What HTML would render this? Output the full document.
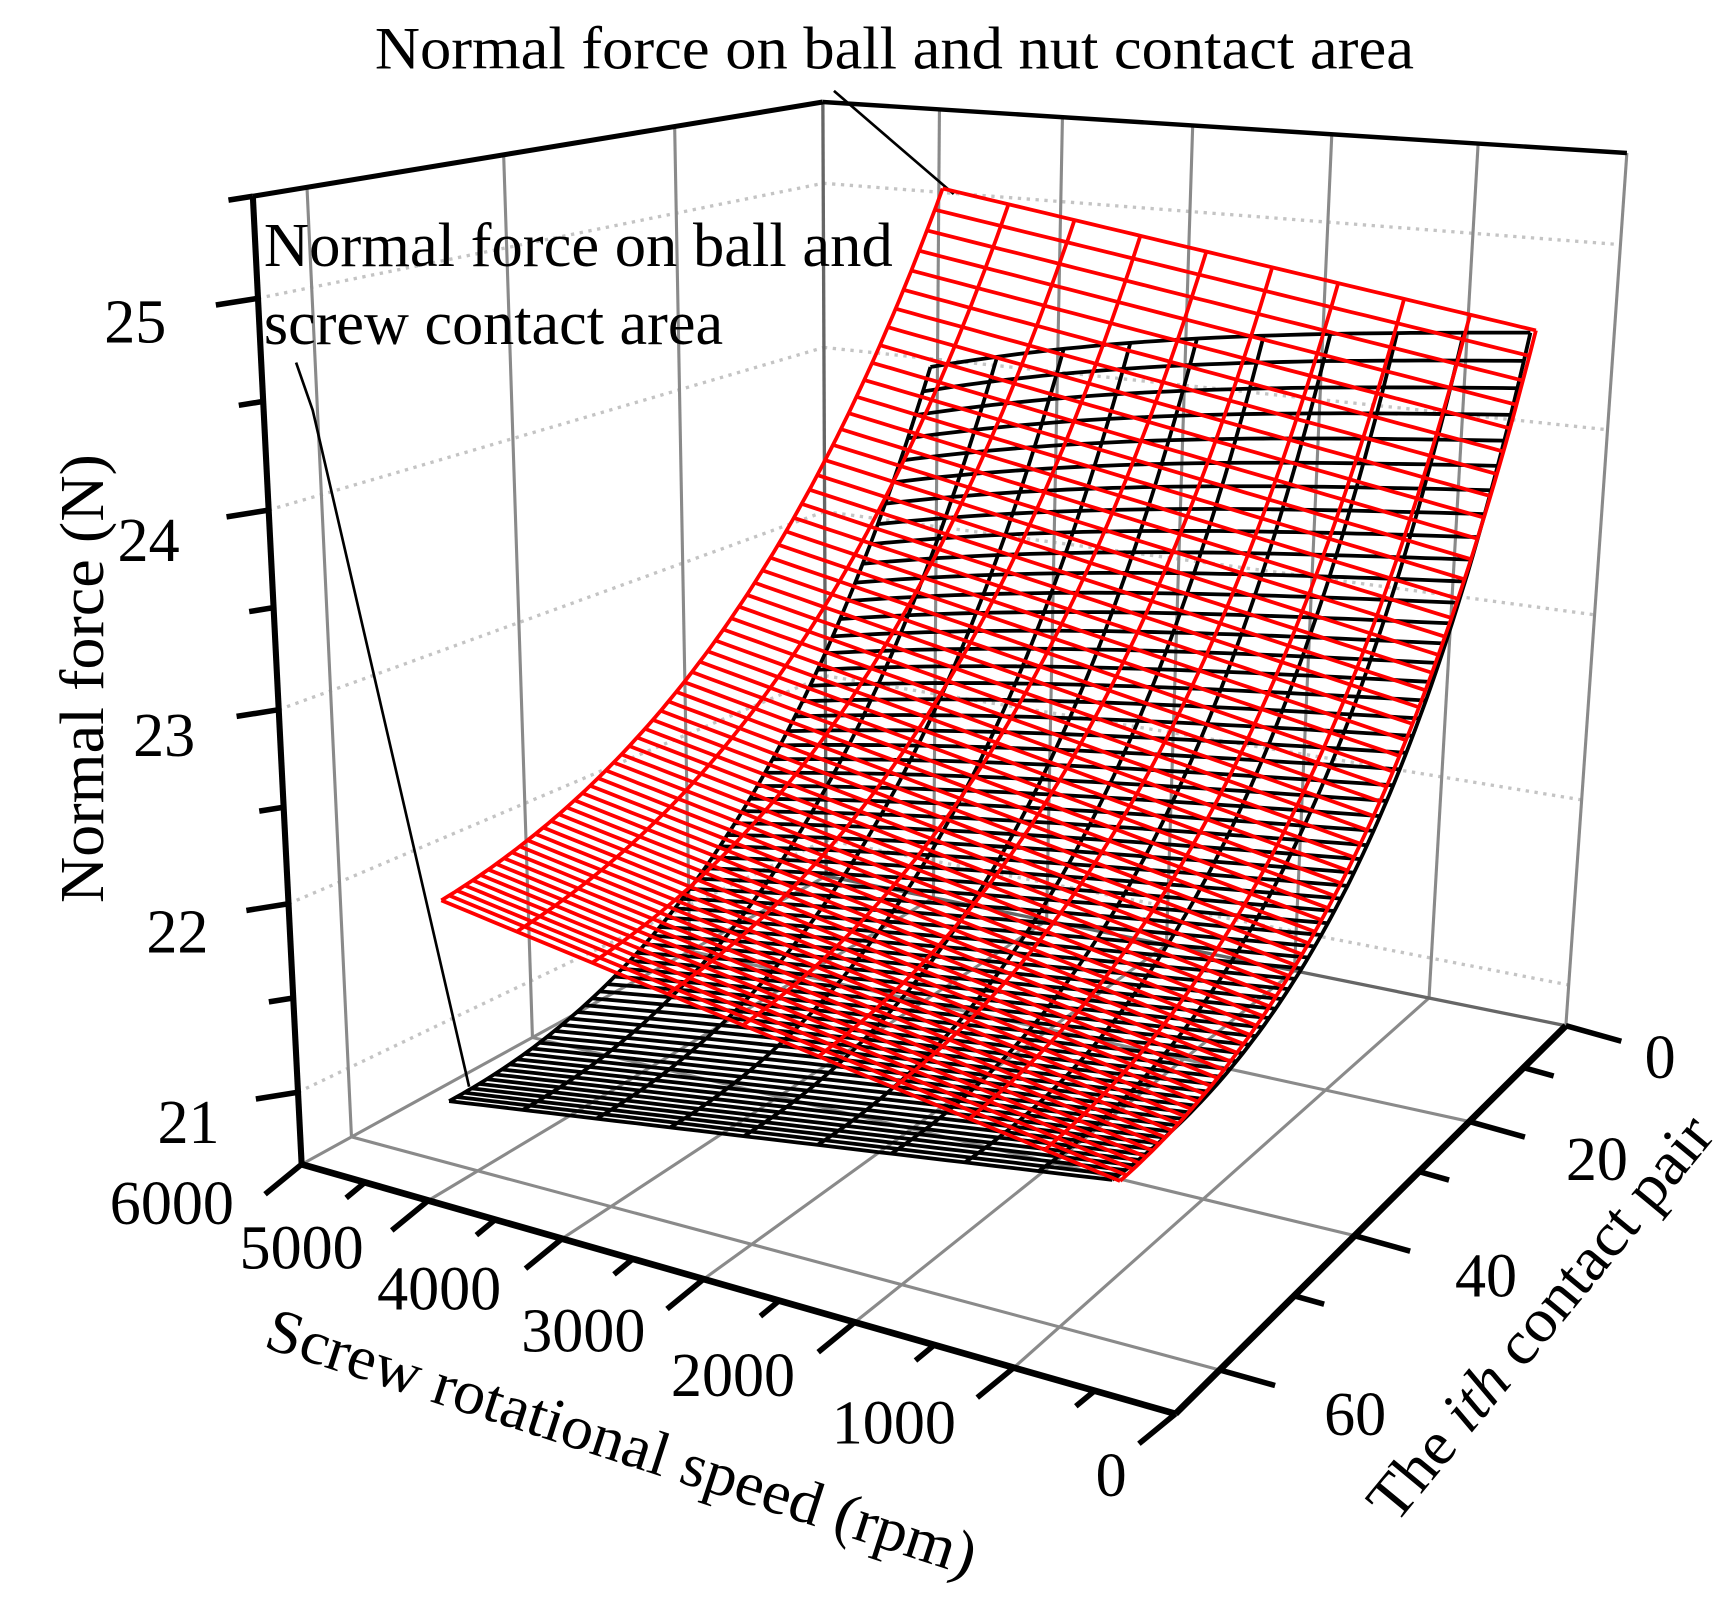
<!DOCTYPE html>
<html><head><meta charset="utf-8"><style>
html,body{margin:0;padding:0;background:#fff;}
svg{display:block;}
text{font-family:"Liberation Serif",serif;fill:#000;}
</style></head><body>
<svg id="s" xmlns="http://www.w3.org/2000/svg" width="1730" height="1599" viewBox="0 0 1560 1442" preserveAspectRatio="none">
<rect width="1560" height="1442" fill="#fff"/>
<g id="grid"></g>
<g id="blk"></g>
<g id="red"></g>
<g id="axes"></g>
<g id="txt">
<text x="338" y="62" font-size="54" textLength="937" lengthAdjust="spacingAndGlyphs">Normal force on ball and nut contact area</text>
<text x="238" y="240" font-size="56" textLength="567" lengthAdjust="spacingAndGlyphs">Normal force on ball and</text>
<text x="238" y="310" font-size="56" textLength="414" lengthAdjust="spacingAndGlyphs">screw contact area</text>
<text transform="translate(93,612) rotate(-90)" font-size="56" text-anchor="middle" textLength="405" lengthAdjust="spacingAndGlyphs">Normal force (N)</text>
<g font-size="56" text-anchor="middle">
<text x="122" y="309">25</text>
<text x="134" y="506">24</text>
<text x="148" y="682">23</text>
<text x="160" y="859">22</text>
<text x="170" y="1031">21</text>
<text x="155" y="1104">6000</text>
<text x="272" y="1144">5000</text>
<text x="396" y="1181">4000</text>
<text x="526" y="1219">3000</text>
<text x="661" y="1259">2000</text>
<text x="806" y="1302">1000</text>
<text x="1002" y="1349">0</text>
<text x="1497" y="972">0</text>
<text x="1440" y="1064">20</text>
<text x="1340" y="1169">40</text>
<text x="1222" y="1294">60</text>
</g>
<text transform="translate(555,1318) rotate(18)" font-size="56" text-anchor="middle" textLength="670" lengthAdjust="spacingAndGlyphs">Screw rotational speed (rpm)</text>
<text transform="translate(1403,1200) rotate(-50.5)" font-size="56" text-anchor="middle" textLength="455" lengthAdjust="spacingAndGlyphs">The <tspan font-style="italic">ith</tspan> contact pair</text>
</g>
</svg>
<script>
(function(){
var NS="http://www.w3.org/2000/svg";
function L(g,x1,y1,x2,y2,st,w,da){var e=document.createElementNS(NS,"line");e.setAttribute("x1",x1);e.setAttribute("y1",y1);e.setAttribute("x2",x2);e.setAttribute("y2",y2);e.setAttribute("stroke",st);e.setAttribute("stroke-width",w);e.setAttribute("stroke-linecap","butt");if(da)e.setAttribute("stroke-dasharray",da);g.appendChild(e);}
function P(g,pts,st,w){var e=document.createElementNS(NS,"polyline");e.setAttribute("points",pts.map(function(p){return p[0].toFixed(1)+","+p[1].toFixed(1)}).join(" "));e.setAttribute("fill","none");e.setAttribute("stroke",st);e.setAttribute("stroke-width",w);e.setAttribute("stroke-linejoin","round");g.appendChild(e);}
function lerp(a,b,t){return [a[0]+(b[0]-a[0])*t,a[1]+(b[1]-a[1])*t];}
var grid=document.getElementById("grid"),axes=document.getElementById("axes");
var A=[272,1050],B=[745,790],C=[1412,925],D=[1060,1275];
var At=[228,177],Bt=[742,92],Ct=[1467,138];
var G="#8a8a8a",DG="#c4c4c4";
function fz(z){return (25.495-z)/4.715;}
var zA={25:269,24:460,23:640,22:815,21:985};
for(var z=21;z<=25;z++){
  var pa=[A[0]+(At[0]-A[0])*(1050-zA[z])/873, zA[z]];
  var pb=lerp(Bt,B,fz(z)), pc=lerp(Ct,C,fz(z));
  L(grid,pa[0],pa[1],pb[0],pb[1],DG,3,"3 5");
  L(grid,pb[0],pb[1],pc[0],pc[1],DG,3,"3 5");
}
var sf=[0.145,0.298,0.46,0.633,0.815];
var pfF=[0.247,0.541,0.887], pfL=[0.26,0.56,0.905];
sf.forEach(function(f){
  var t=lerp(Bt,Ct,f),b=lerp(B,C,f),a=lerp(A,D,f);
  L(grid,t[0],t[1],b[0],b[1],G,2.8);
  L(grid,a[0],a[1],b[0],b[1],G,2.8);
});
for(var i=0;i<3;i++){
  var t=lerp(Bt,At,pfL[i]),b=lerp(B,A,pfL[i]),c=lerp(C,D,pfF[i]);
  L(grid,t[0],t[1],b[0],b[1],G,2.8);
  L(grid,b[0],b[1],c[0],c[1],G,2.8);
}
L(grid,A[0],A[1],B[0],B[1],G,2.8);
L(grid,B[0],B[1],C[0],C[1],"#666",3);
L(grid,Bt[0],Bt[1],B[0],B[1],"#666",3);
L(grid,Ct[0],Ct[1],C[0],C[1],G,2.8);
L(grid,752,82,860,175,"#000",2.4);
P(grid,[[267,327],[282,370],[423,980]],"#000",2.4);
function surf(g,topf,BL,BR,k,col,nu,nv){
  function g_(v){return (1-Math.exp(-k*v))/(1-Math.exp(-k));}
  function pt(u,v){var T=topf(u),Bo=lerp(BL,BR,u);return [T[0]+(Bo[0]-T[0])*v, T[1]+(Bo[1]-T[1])*g_(v)];}
  var j,i,pts;
  for(j=0;j<=nv;j++){pts=[];for(i=0;i<=40;i++)pts.push(pt(i/40,j/nv));P(g,pts,col,3.4);}
  for(i=0;i<=nu;i++){pts=[];for(j=0;j<=80;j++)pts.push(pt(i/nu,j/80));P(g,pts,col,3.4);}
}
surf(document.getElementById("blk"),function(u){return [839+541*u,300+31*Math.pow(1-u,3)];},[405,993],[1003,1064],1.8,"#000",9,64);
surf(document.getElementById("red"),function(u){return lerp([850,170],[1385,298],u);},[398,812],[1010,1065],1.5,"#ff0000",9,64);
L(axes,At[0],At[1],A[0],A[1],"#000",5.5);
L(axes,At[0],At[1],Bt[0],Bt[1],"#000",4.5);
L(axes,Bt[0],Bt[1],Ct[0],Ct[1],"#000",4);
L(axes,A[0],A[1],D[0],D[1],"#000",6);
L(axes,C[0],C[1],D[0],D[1],"#000",6);
var zt=[[177,0],[269,1],[362,0],[460,1],[548,0],[640,1],[728,0],[815,1],[900,0],[985,1]];
zt.forEach(function(t){var y=t[0];var x=A[0]+(At[0]-A[0])*(1050-y)/873;var l=t[1]?38:22;L(axes,x,y,x-l,y+l*0.16,"#000",5);});
var xf=[0,0.145,0.298,0.46,0.633,0.815,1.0];
for(var i=0;i<xf.length;i++){var p=lerp(A,D,xf[i]);L(axes,p[0],p[1],p[0]-33,p[1]+27,"#000",5);
  if(i<xf.length-1){var q=lerp(A,D,(xf[i]+xf[i+1])/2);L(axes,q[0],q[1],q[0]-17,q[1]+14,"#000",5);}}
var yf=[[0,1],[0.108,0],[0.247,1],[0.376,0],[0.541,1],[0.696,0],[0.887,1]];
yf.forEach(function(t){var p=lerp(C,D,t[0]);var l=t[1]?50:27;L(axes,p[0],p[1],p[0]+l,p[1]+l*0.28,"#000",5);});
})();
</script>
</body></html>
